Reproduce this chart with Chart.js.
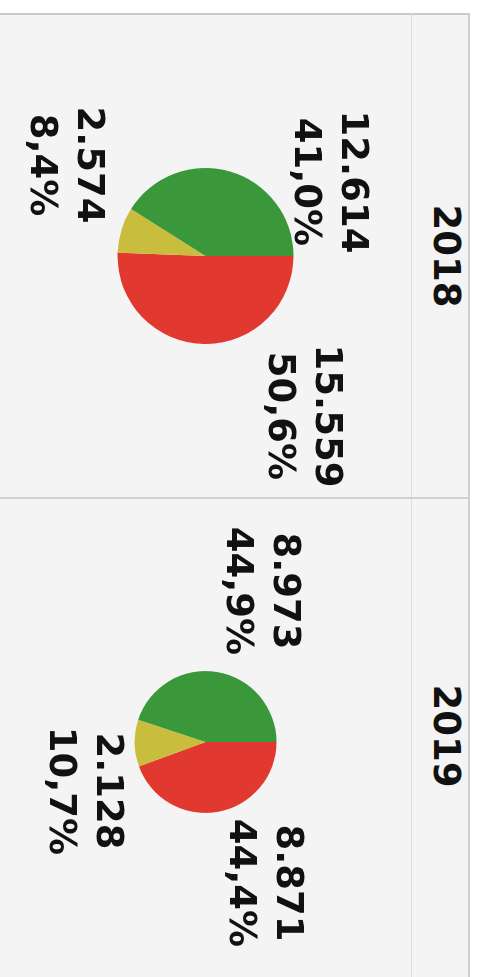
<!DOCTYPE html>
<html>
<head>
<meta charset="utf-8">
<script src="https://cdn.jsdelivr.net/npm/chart.js@4/dist/chart.umd.min.js"></script>
<style>
    html, body { margin: 0; padding: 0; background: #fff; overflow: hidden; }
    body { width: 478px; height: 977px; position: relative; }
    /* the chart is laid out sideways and turned a quarter clockwise */
    #stage {
        position: absolute; left: 0; top: 0;
        width: 977px; height: 478px;
        transform-origin: 0 0;
        transform: translate(478px, 0) rotate(90deg);
        background: #fff;
    }
    .box { position: absolute; box-sizing: border-box; }
    #table { left: 13px; top: 8px; width: 964px; height: 470px; background: #f4f4f4;
             border-left: 2px solid #c9c9c9; border-top: 2px solid #cfcfcf; }
    #rowline { left: 13px; top: 66px; width: 964px; height: 1px; background: #dedede; }
    #colline { left: 497px; top: 8px; width: 2px; height: 470px; background: #d0d0d0; }
    .head { position: absolute; top: 10px; height: 56px; line-height: 56px; text-align: center;
            font: bold 37px "DejaVu Sans", Verdana, sans-serif; color: #111; }
    canvas { position: absolute; }
</style>
</head>
<body>
<div id="stage">
    <div class="box" id="table"></div>
    <div class="box" id="rowline"></div>
    <div class="box" id="colline"></div>
    <div class="head" id="h0" style="left:15px;width:482px;"></div>
    <div class="head" id="h1" style="left:499px;width:474px;"></div>
    <canvas id="pie0" width="482" height="411" style="left:15px;top:67px;"></canvas>
    <canvas id="pie1" width="486" height="411" style="left:499px;top:67px;"></canvas>
</div>
<script>
// Data
const years = ['2018', '2019'];
const categories = ['Rot', 'Gelb', 'Grün'];
const values2018 = [15559, 2574, 12614];
const values2019 = [8871, 2128, 8973];

const sliceColors = ['#e1392f', '#c8bd3d', '#3a983a'];
const maxRadius = 88;
const labelFont = 'bold 37px "DejaVu Sans", Verdana, sans-serif';
const lineGap = 47;

// where each label block sits, relative to the pie centre
const labelOffsets = [
    [[160, -97], [-91, 141], [-74, -123]],
    [[141, -58], [49, 122], [-151, -55]]
];

const allValues = [values2018, values2019];
const totals = allValues.map(v => v.reduce((a, b) => a + b, 0));
const biggest = Math.max(...totals);

const fmtInt = n => n.toLocaleString('de-DE');
const fmtPct = p => p.toFixed(1).replace('.', ',') + '%';

const sliceLabels = {
    id: 'sliceLabels',
    afterDatasetsDraw(chart, args, opts) {
        const ctx = chart.ctx;
        const data = chart.data.datasets[0].data;
        const total = data.reduce((a, b) => a + b, 0);
        ctx.save();
        ctx.font = labelFont;
        ctx.fillStyle = '#111';
        ctx.textAlign = 'center';
        ctx.textBaseline = 'middle';
        chart.getDatasetMeta(0).data.forEach((arc, i) => {
            const off = opts.offsets[i];
            const x = arc.x + off[0];
            const y = arc.y + off[1];
            ctx.fillText(fmtInt(data[i]), x, y - lineGap / 2);
            ctx.fillText(fmtPct(data[i] / total * 100), x, y + lineGap / 2);
        });
        ctx.restore();
    }
};

years.forEach((year, k) => {
    document.getElementById('h' + k).textContent = year;
    const ctx = document.getElementById('pie' + k).getContext('2d');
    new Chart(ctx, {
        type: 'pie',
        data: {
            labels: categories,
            datasets: [{
                data: allValues[k],
                backgroundColor: sliceColors,
                borderWidth: 0,
                // area proportional to the year's total
                radius: maxRadius * Math.sqrt(totals[k] / biggest)
            }]
        },
        options: {
            responsive: false,
            animation: false,
            layout: { padding: 0 },
            plugins: {
                legend: { display: false },
                tooltip: { enabled: false },
                sliceLabels: { offsets: labelOffsets[k] }
            }
        },
        plugins: [sliceLabels]
    });
});
</script>
</body>
</html>
